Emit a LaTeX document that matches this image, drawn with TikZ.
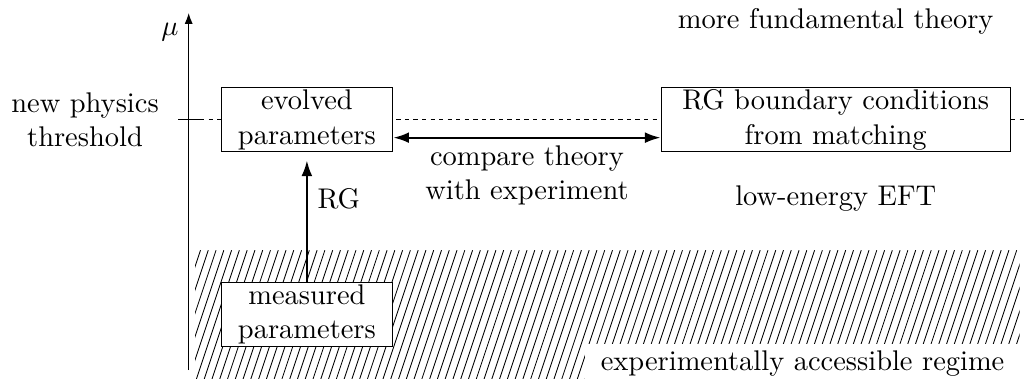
\documentclass[tikz,border=0pt]{standalone}
\usepackage{tikz}
\usetikzlibrary{arrows.meta,positioning}

\tikzset{
 box/.style={draw, fill=white, align=center, minimum height=0.79cm, inner sep=0pt},
 flow/.style={line width=0.8pt, -{Latex[length=5.5pt,width=3.8pt]}},
}

\begin{document}
\begin{tikzpicture}
 \useasboundingbox (0,0) rectangle (12.67,4.68);

 \begin{scope}
	 \clip (2.41,0) rectangle (12.59,1.59);
	 \foreach \i in {0,...,112} {
	  \draw [line width=0.3pt] (1.85+\i*0.096,0) -- ++(0.53,1.59);
	  }
 \end{scope}

 \coordinate (axisfoot) at (2.33,0.11);
 \coordinate (axistop) at (2.33,4.52);
 \draw [-{Latex[length=3.8pt,width=2.8pt]}] (axisfoot) -- (axistop);
 \node (mu) at (2.10,4.28) {$\mu$};

 \coordinate (tickL) at (2.20,3.20);
 \coordinate (tickR) at (2.47,3.20);
 \coordinate (thrend) at (12.67,3.20);
 \draw (tickL) -- (tickR);
 \draw [dash pattern=on 1.5pt off 1.5pt] (tickR) -- (thrend);
 \node (thr) at (1.05,3.20) [align=center] {new physics\\threshold};

 \node (evolved) at (3.79,3.20) [box, minimum width=2.12cm] {evolved\\parameters};
	 \node (matching) at (10.32,3.20) [box, minimum width=4.31cm] {RG boundary conditions\\from matching};
 \node (measured) at (3.79,0.80) [box, minimum width=2.12cm] {measured\\parameters};

 \draw [flow, shorten >=2.8pt] (measured) -- (evolved) node [right, pos=0.64] {RG};
 \draw [flow, {Latex[length=5.5pt,width=3.8pt]}-{Latex[length=5.5pt,width=3.8pt]}] ([yshift=-0.22cm]evolved.east) -- ([yshift=-0.22cm]matching.west)
	 node [below=-1pt, midway, align=center] {compare theory\\with experiment};

 \node (fund) at (10.32,4.41) {more fundamental theory};
 \node (eft) at (10.32,2.23) {low-energy EFT};
 \node (regime) at (12.61,0.11) [anchor=base east, fill=white, inner xsep=0.2cm, inner ysep=0.08cm] {experimentally accessible regime};
 \end{tikzpicture}
\end{document}
